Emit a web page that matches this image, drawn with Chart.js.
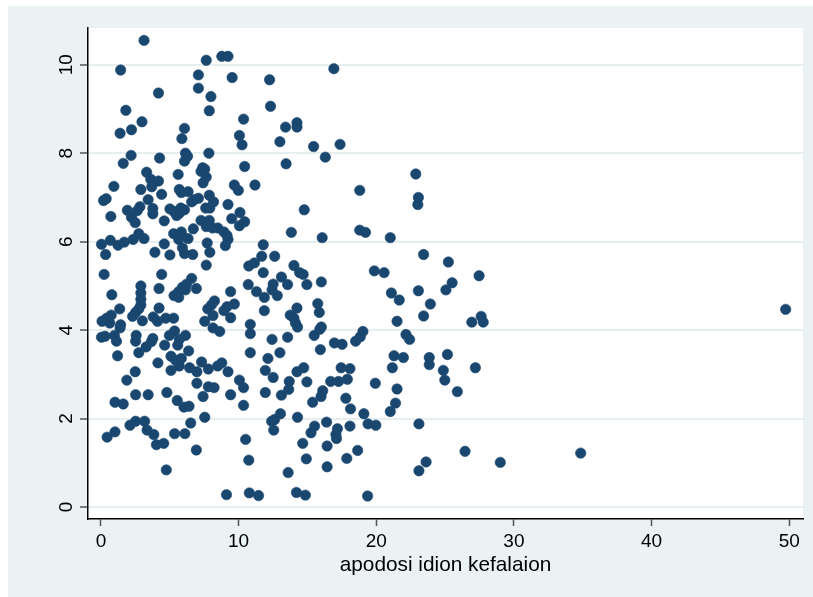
<!DOCTYPE html>
<html>
<head>
<meta charset="utf-8">
<script src="https://cdn.jsdelivr.net/npm/chart.js@4"></script>
<style>
  html, body { margin: 0; padding: 0; background: #fff; }
  canvas { display: block; }
</style>
</head>
<body>
<canvas id="scatter" width="813" height="597"></canvas>
<script>
// tick labels
const xTicks = [0, 10, 20, 30, 40, 50];
const yTicks = [0, 2, 4, 6, 8, 10];
const xTitle = 'apodosi idion kefalaion';

// values, x then y
const xValues = [
  3.13, 1.43, 7.65, 8.78, 9.23, 9.53, 7.08, 7.08, 7.99, 7.87, 4.18, 1.81, 2.98, 2.22, 1.39, 1.62, 2.19, 4.26,
  6.07, 5.88, 6.14, 6.29, 6.07, 7.84, 10.36, 10.06, 10.25, 10.44, 12.25, 12.32, 13.41, 14.24, 14.24, 13.00,
  13.45, 15.45, 16.30, 16.92, 17.37,
  3.32, 3.62, 3.69, 4.18, 4.41, 2.90, 3.43, 0.94, 0.19, 0.38, 2.83, 3.77, 3.77, 1.92, 2.22, 2.49, 0.72, 2.64,
  4.60, 2.75, 3.13, 2.34, 1.70, 1.24, 0.68, 0.04, 0.34, 0.23, 3.92, 4.60, 5.01, 5.61, 5.69, 5.84, 6.33, 5.01,
  5.31, 5.50, 5.80, 6.07, 5.69, 5.28, 5.84, 5.65, 6.33, 5.92, 6.07, 6.67, 6.71, 6.78, 7.08, 6.59, 7.39, 7.27,
  7.54, 7.65, 7.42, 7.87, 8.18, 7.91, 7.61, 7.27, 7.61, 7.87, 7.65, 8.10, 8.48, 8.93, 9.16, 9.23, 9.04, 7.72,
  7.91, 7.65, 9.23, 9.50, 9.69, 9.98, 10.10, 10.06, 10.44, 11.19, 14.77, 13.83, 16.07, 18.80, 18.80, 19.22,
  21.02, 22.87, 23.06, 23.02,
  11.79, 11.68, 12.62, 10.74, 11.15, 11.79, 13.11, 14.02, 14.43, 14.69, 14.96, 16.01, 12.51, 12.43, 10.70,
  11.30, 11.87, 12.81, 13.56, 15.75, 15.86, 16.01, 15.90, 14.24, 13.75, 14.02, 14.13, 14.28, 11.87, 10.85,
  10.85, 19.86, 20.57, 21.10, 21.67, 21.51, 23.44, 23.06, 23.44, 23.93, 25.24, 25.51, 25.06, 27.47, 26.94,
  27.62, 27.77, 49.74, 2.90, 2.90, 2.90, 2.90, 2.75, 2.52, 2.30, 3.01, 0.79, 1.36, 0.75, 0.41, 0.08, 0.64,
  1.43, 1.39, 4.22, 4.41, 4.22, 4.71, 5.28, 4.11, 5.31, 5.65, 5.65, 5.92, 6.14, 6.22, 6.93, 6.59, 9.42, 9.69,
  9.16, 8.93, 9.42, 8.25, 8.03, 7.76, 8.14, 7.54, 8.14, 8.63, 3.80,
  0.04, 0.30, 0.98, 1.13, 1.21, 2.56, 2.52, 3.77, 3.66, 3.28, 2.75, 4.14, 4.63, 4.97, 5.35, 5.69, 6.14, 5.58,
  6.37, 5.09, 5.43, 5.84, 5.69, 5.09, 6.44, 6.97, 7.31, 7.80, 8.48, 8.78, 9.23, 2.49, 1.88, 2.52, 3.43, 4.79,
  6.97, 7.80, 8.22, 7.42, 9.42, 10.06, 10.36, 10.36, 5.54, 6.03, 6.40, 1.02, 1.62, 7.54, 10.85, 12.13, 12.43,
  13.00, 13.56, 11.94, 12.51, 13.68, 14.24, 14.73, 14.96, 11.94, 13.11, 13.64, 13.04, 14.28, 15.49, 15.94,
  16.96, 17.52, 17.45, 18.09, 16.69, 17.26, 17.90, 16.11, 15.99, 15.38, 17.79, 18.13, 18.50, 18.84, 19.03,
  22.16, 22.42, 21.29, 21.97, 21.17, 23.85, 23.85, 25.17, 24.87, 24.98, 27.20, 25.89, 19.93, 21.51, 21.40,
  21.02, 19.10, 19.97,
  2.11, 2.52, 3.17, 3.35, 3.84, 4.03, 4.56, 0.45, 1.02, 5.35, 6.10, 6.52, 6.93, 4.75, 9.12, 10.78, 11.45,
  14.20, 14.85, 19.37, 10.51, 10.74, 13.60, 14.92, 16.43, 17.86, 18.65, 16.43, 14.66, 15.26, 15.52, 16.39,
  17.11, 17.07, 17.18, 18.09, 19.40, 23.10, 23.10, 23.62, 26.45, 29.01, 34.85, 12.40, 12.62, 12.55
];
const yValues = [
  10.55, 9.88, 10.10, 10.19, 10.19, 9.71, 9.77, 9.47, 9.28, 8.96, 9.36, 8.97, 8.71, 8.53, 8.45, 7.77, 7.95, 7.89,
  8.56, 8.33, 8.00, 7.93, 7.82, 8.00, 8.77, 8.40, 8.19, 7.70, 9.66, 9.06, 8.59, 8.69, 8.59, 8.26,
  7.76, 8.15, 7.91, 9.91, 8.20,
  7.57, 7.41, 7.24, 7.37, 7.07, 7.18, 6.95, 7.25, 6.93, 6.97, 6.79, 6.75, 6.63, 6.71, 6.55, 6.43, 6.57, 6.70,
  6.47, 6.18, 6.07, 6.05, 5.99, 5.92, 6.03, 5.94, 5.71, 5.26, 5.76, 5.95, 5.70, 7.52, 7.18, 7.11, 7.13, 6.74,
  6.68, 6.59, 6.76, 6.72, 6.64, 6.18, 6.22, 6.05, 6.07, 5.86, 5.73, 5.71, 6.29, 6.95, 6.98, 6.90, 7.67, 7.59,
  7.64, 7.46, 7.33, 7.05, 6.90, 6.76, 6.76, 6.48, 6.43, 6.48, 6.34, 6.31, 6.31, 6.22, 6.14, 6.05, 5.91, 5.97,
  5.76, 5.47, 6.84, 6.52, 7.28, 7.16, 6.66, 6.36, 6.45, 7.28, 6.72, 6.21, 6.09, 7.16, 6.26, 6.21,
  6.09, 7.53, 7.00, 6.84,
  5.93, 5.67, 5.67, 5.45, 5.52, 5.30, 5.20, 5.46, 5.30, 5.26, 5.03, 5.09, 5.04, 4.91, 5.03,
  4.87, 4.74, 4.78, 5.03, 4.60, 4.40, 4.07, 4.02, 4.50, 4.34, 4.27, 4.16, 4.07, 4.44, 4.13,
  3.92, 5.34, 5.30, 4.84, 4.68, 4.20, 5.71, 4.89, 4.32, 4.59, 5.54, 5.07, 4.91, 5.23, 4.18,
  4.31, 4.18, 4.47, 5.00, 4.84, 4.70, 4.57, 4.48, 4.40, 4.31, 4.21, 4.80, 4.48, 4.34, 4.27, 4.20, 4.16,
  4.12, 4.05, 4.94, 5.26, 4.50, 4.27, 4.27, 4.20, 4.78, 4.87, 4.74, 4.97, 4.91, 5.04, 4.94, 5.17, 4.87, 4.59,
  4.53, 4.44, 4.28, 4.66, 4.57, 4.48, 4.33, 4.20, 4.05, 3.97, 4.30,
  3.84, 3.86, 3.88, 3.75, 3.42, 3.88, 3.75, 3.81, 3.74, 3.62, 3.49, 3.26, 3.66, 3.88, 3.98, 3.79, 3.88, 3.66,
  3.53, 3.41, 3.32, 3.36, 3.19, 3.09, 3.15, 3.06, 3.28, 3.12, 3.19, 3.26, 3.06, 3.06, 2.87, 2.54, 2.54, 2.59,
  2.80, 2.72, 2.70, 2.50, 2.54, 2.87, 2.70, 2.30, 2.41, 2.26, 2.28, 2.37, 2.33, 2.03, 3.49, 3.36, 3.79,
  3.49, 3.84, 3.09, 2.93, 2.84, 3.06, 3.15, 2.83, 2.59, 2.53, 2.66, 2.11, 2.03, 3.88, 3.56,
  3.71, 3.68, 3.15, 3.13, 2.84, 2.84, 2.89, 2.63, 2.50, 2.37, 2.46, 2.22, 3.75, 3.85, 3.97,
  3.90, 3.79, 3.42, 3.38, 3.15, 3.38, 3.22, 3.45, 3.09, 2.87, 3.15, 2.61, 2.80, 2.67, 2.35,
  2.16, 2.11, 1.85,
  1.85, 1.94, 1.94, 1.74, 1.64, 1.41, 1.44, 1.58, 1.70, 1.66, 1.66, 1.90, 1.29, 0.84, 0.28, 0.32, 0.26,
  0.33, 0.27, 0.25, 1.53, 1.06, 0.78, 1.09, 0.91, 1.10, 1.28, 1.38, 1.44, 1.68, 1.83, 1.92,
  1.55, 1.64, 1.77, 1.83, 1.88, 1.88, 0.82, 1.02, 1.26, 1.01, 1.22, 1.94, 1.98, 1.74
];

const navy = '#1a476f';
const panel = '#eaf2f3';
const font = "'Liberation Sans', Arial, sans-serif";

const points = xValues.map((x, i) => ({ x: x, y: yValues[i] }));

// stata style frame: light outer region, white plot region
const framePlugin = {
  id: 'frame',
  beforeDraw(chart) {
    const ctx = chart.ctx;
    const a = chart.chartArea;
    ctx.save();
    ctx.fillStyle = '#ffffff';
    ctx.fillRect(0, 0, chart.width, chart.height);
    ctx.fillStyle = panel;
    ctx.fillRect(8, 6, chart.width - 8, chart.height - 6);
    ctx.fillStyle = '#ffffff';
    ctx.fillRect(a.left, a.top, a.right - a.left, a.bottom - a.top);
    ctx.restore();
  }
};

// vertical y tick labels
const yLabelPlugin = {
  id: 'yLabels',
  afterDraw(chart) {
    const ctx = chart.ctx;
    const y = chart.scales.y;
    ctx.save();
    ctx.fillStyle = '#000';
    ctx.font = '19px ' + font;
    ctx.textAlign = 'center';
    ctx.textBaseline = 'alphabetic';
    yTicks.forEach(v => {
      ctx.save();
      ctx.translate(71.5, y.getPixelForValue(v));
      ctx.rotate(-Math.PI / 2);
      ctx.fillText(String(v), 0, 0);
      ctx.restore();
    });
    ctx.restore();
  }
};

new Chart(document.getElementById('scatter'), {
  type: 'scatter',
  data: {
    datasets: [{
      data: points,
      backgroundColor: navy,
      borderColor: navy,
      borderWidth: 0.6,
      pointRadius: 5.2,
      pointHoverRadius: 5.2
    }]
  },
  options: {
    responsive: false,
    animation: false,
    devicePixelRatio: 1,
    layout: { padding: { left: 0, top: 28, right: 10, bottom: 0 } },
    plugins: {
      legend: { display: false },
      tooltip: { enabled: false }
    },
    scales: {
      x: {
        type: 'linear',
        min: -0.94,
        max: 51.0,
        afterBuildTicks: s => { s.ticks = xTicks.map(v => ({ value: v })); },
        afterFit: s => { s.height = 78; },
        grid: { drawOnChartArea: false, drawTicks: true, tickLength: 7, tickColor: '#555', tickWidth: 1.5 },
        border: { display: true, color: '#000', width: 1.5 },
        ticks: { color: '#000', font: { family: font, size: 19 }, padding: 4, maxRotation: 0, autoSkip: false },
        title: {
          display: true,
          text: xTitle,
          color: '#000',
          font: { family: font, size: 20.8 },
          padding: { top: 0, bottom: 19 }
        }
      },
      y: {
        type: 'linear',
        min: -0.27,
        max: 10.83,
        afterBuildTicks: s => { s.ticks = yTicks.map(v => ({ value: v })); },
        afterFit: s => { s.width = 88; },
        grid: { color: '#e6eef0', lineWidth: 2, drawTicks: true, tickLength: 8, tickColor: '#555', tickWidth: 1.5 },
        border: { display: true, color: '#000', width: 1.5 },
        ticks: { display: false }
      }
    }
  },
  plugins: [framePlugin, yLabelPlugin]
});
</script>
</body>
</html>
